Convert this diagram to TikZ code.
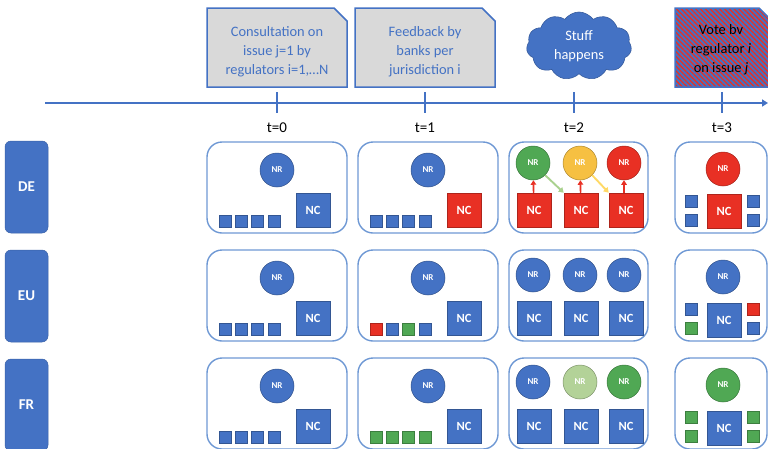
\documentclass[tikz,border=0pt]{standalone}
\usepackage{fontspec}
\setmainfont{Carlito}
\usetikzlibrary{shapes.symbols,arrows.meta,patterns.meta}

\definecolor{ublue}{RGB}{68,114,196}
\definecolor{upanel}{RGB}{110,152,212}
\definecolor{ured}{RGB}{232,48,36}
\definecolor{ugreen}{RGB}{80,168,84}
\definecolor{ulgreen}{RGB}{179,210,152}
\definecolor{uyellow}{RGB}{246,192,66}
\definecolor{ugray}{RGB}{217,217,217}
\definecolor{uarrowgreen}{RGB}{169,209,142}
\definecolor{uarrowyellow}{RGB}{255,217,102}

\tikzset{
  big/.style={font=\fontsize{15}{18.5}\selectfont},
  boxtext/.style={font=\fontsize{14.4}{19}\selectfont, align=center, inner sep=0pt},
  panel/.style={draw=upanel, line width=1.4pt, rounded corners=15pt,
    minimum height=91pt, inner sep=0pt},
  rowlabel/.style={fill=ublue, draw=ublue!85!black, line width=0.5pt,
    rounded corners=6pt, minimum width=43pt, minimum height=92pt,
    text=white, font=\fontsize{15}{18}\selectfont\bfseries},
  nr/.style={circle, minimum size=34pt, inner sep=0pt, fill=#1,
    draw=#1!70!black, line width=0.5pt, text=white,
    font=\fontsize{9}{10}\selectfont\bfseries},
  nc/.style={rectangle, minimum size=34pt, inner sep=0pt, fill=#1,
    draw=#1!75!black, line width=0.5pt, text=white,
    font=\fontsize{12.5}{14}\selectfont\bfseries},
  sq/.style={rectangle, minimum size=12pt, inner sep=0pt, fill=#1,
    draw=#1!75!black, line width=0.5pt},
  up/.style={draw=ured, line width=1.7pt, -{Triangle[length=4.5pt,width=5.5pt]}},
  pass/.style={draw=#1, line width=1.9pt, -{Triangle[length=5pt,width=6pt]}},
  tick/.style={draw=ublue, line width=1.6pt},
}

% box with the top right corner cut off
\newcommand\snipbox[6]{%
  \path[#6] (#1,#2) -- (#3-#5,#2) -- (#3,#2+#5) -- (#3,#4) -- (#1,#4) -- cycle;}

\begin{document}
\begin{tikzpicture}[x=1pt, y=-1pt]
\useasboundingbox (0,0) rectangle (768,448);
\clip (0,0) rectangle (768,448);

% ---- events above the time line
\snipbox{207}{8}{347}{87}{13}{fill=ugray, draw=ublue, line width=1.5pt}
\node[boxtext, text=ublue] (consult) at (277,52)
  {Consultation on\\issue j=1 by\\regulators i=1,\dots N};

\snipbox{355}{8}{495}{87}{13}{fill=ugray, draw=ublue, line width=1.5pt}
\node[boxtext, text=ublue] (feedback) at (425,52)
  {Feedback by\\banks per\\jurisdiction i};

\node[cloud, cloud puffs=11, cloud puff arc=110, aspect=1.55,
  fill=ublue, draw=ublue!80!black, line width=0.6pt,
  minimum width=105pt, minimum height=68pt, inner sep=0pt,
  boxtext, text=white] (stuff) at (579,46) {Stuff\\happens};

\snipbox{675}{8}{770}{87}{11}{preaction={fill=ublue},
  pattern={Lines[angle=-45,distance=3.4pt,line width=1.3pt]},
  pattern color=ured, draw=ublue, line width=1.5pt}
\node[boxtext, text=black] (vote) at (721,50)
  {Vote bv\\regulator \textit{i}\\on issue \textit{j}};

% ---- time line
\coordinate (tstart) at (45,103);
\coordinate (tend) at (768,103);
\draw[draw=ublue, line width=1.6pt, -{Triangle[length=6pt,width=7pt]}] (tstart) -- (tend);
\foreach \x/\n in {277/0, 425/1, 574/2, 722/3} {
  \coordinate (tk\n a) at (\x,92);
  \coordinate (tk\n b) at (\x,113);
  \draw[tick] (tk\n a) -- (tk\n b);
  \node[big] (tl\n) at (\x,128) {t=\n};
}

% ---- jurisdictions
\node[rowlabel] (DE) at (26.5,187) {DE};
\node[rowlabel] (EU) at (26.5,296) {EU};
\node[rowlabel] (FR) at (26.5,405) {FR};

% ---- panels
\foreach \r/\y in {de/187.5, eu/295.5, fr/403.5} {
  \node[panel, minimum width=140pt] (\r p0) at (277,\y) {};
  \node[panel, minimum width=140pt] (\r p1) at (428,\y) {};
  \node[panel, minimum width=139pt] (\r p2) at (578.5,\y) {};
  \node[panel, minimum width=92pt]  (\r p3) at (721,\y) {};
}

% ---- DE
\node[nr=ublue] (de0nr) at (277,170) {NR};
\node[nc=ublue] (de0nc) at (313,210) {NC};
\node[sq=ublue] (de0s1) at (225,221) {};
\node[sq=ublue] (de0s2) at (241.3,221) {};
\node[sq=ublue] (de0s3) at (257.6,221) {};
\node[sq=ublue] (de0s4) at (274,221) {};

\node[nr=ublue] (de1nr) at (428,170) {NR};
\node[nc=ured] (de1nc) at (464,210) {NC};
\node[sq=ublue] (de1s1) at (376,221) {};
\node[sq=ublue] (de1s2) at (392.3,221) {};
\node[sq=ublue] (de1s3) at (408.6,221) {};
\node[sq=ublue] (de1s4) at (425,221) {};

\node[nr=ugreen] (de2nr1) at (533,163) {NR};
\node[nr=uyellow] (de2nr2) at (580,163) {NR};
\node[nr=ured] (de2nr3) at (624,163) {NR};
\node[nc=ured] (de2nc1) at (534,210) {NC};
\node[nc=ured] (de2nc2) at (581,210) {NC};
\node[nc=ured] (de2nc3) at (626,210) {NC};
\draw[up] (de2nc1) -- (de2nr1);
\draw[up] (de2nc2) -- (de2nr2);
\draw[up] (de2nc3.north -| de2nr3) -- (de2nr3);
\draw[pass=uarrowgreen] (de2nr1.south east) -- (de2nc2.north west);
\draw[pass=uarrowyellow] (de2nr2.south east) -- (de2nc3.north west);

\node[nr=ured] (de3nr) at (723,169) {NR};
\node[nc=ured] (de3nc) at (724,211) {NC};
\node[sq=ublue] (de3s1) at (691,201) {};
\node[sq=ublue] (de3s2) at (691,220) {};
\node[sq=ublue] (de3s3) at (753,201) {};
\node[sq=ublue] (de3s4) at (753,220) {};

% ---- EU
\node[nr=ublue] (eu0nr) at (277,278) {NR};
\node[nc=ublue] (eu0nc) at (313,318) {NC};
\node[sq=ublue] (eu0s1) at (225,329) {};
\node[sq=ublue] (eu0s2) at (241.3,329) {};
\node[sq=ublue] (eu0s3) at (257.6,329) {};
\node[sq=ublue] (eu0s4) at (274,329) {};

\node[nr=ublue] (eu1nr) at (428,278) {NR};
\node[nc=ublue] (eu1nc) at (464,318) {NC};
\node[sq=ured] (eu1s1) at (376,329) {};
\node[sq=ublue] (eu1s2) at (392.3,329) {};
\node[sq=ugreen] (eu1s3) at (408.6,329) {};
\node[sq=ublue] (eu1s4) at (425,329) {};

\node[nr=ublue] (eu2nr1) at (533,275) {NR};
\node[nr=ublue] (eu2nr2) at (580,275) {NR};
\node[nr=ublue] (eu2nr3) at (624,275) {NR};
\node[nc=ublue] (eu2nc1) at (534,318) {NC};
\node[nc=ublue] (eu2nc2) at (581,318) {NC};
\node[nc=ublue] (eu2nc3) at (626,318) {NC};

\node[nr=ublue] (eu3nr) at (723,277) {NR};
\node[nc=ublue] (eu3nc) at (724,320) {NC};
\node[sq=ublue] (eu3s1) at (691,309) {};
\node[sq=ugreen] (eu3s2) at (691,328) {};
\node[sq=ured] (eu3s3) at (753,309) {};
\node[sq=ublue] (eu3s4) at (753,328) {};

% ---- FR
\node[nr=ublue] (fr0nr) at (277,386) {NR};
\node[nc=ublue] (fr0nc) at (313,426) {NC};
\node[sq=ublue] (fr0s1) at (225,437) {};
\node[sq=ublue] (fr0s2) at (241.3,437) {};
\node[sq=ublue] (fr0s3) at (257.6,437) {};
\node[sq=ublue] (fr0s4) at (274,437) {};

\node[nr=ublue] (fr1nr) at (428,386) {NR};
\node[nc=ublue] (fr1nc) at (464,426) {NC};
\node[sq=ugreen] (fr1s1) at (376,437) {};
\node[sq=ugreen] (fr1s2) at (392.3,437) {};
\node[sq=ugreen] (fr1s3) at (408.6,437) {};
\node[sq=ugreen] (fr1s4) at (425,437) {};

\node[nr=ublue] (fr2nr1) at (533,382) {NR};
\node[nr=ulgreen] (fr2nr2) at (580,382) {NR};
\node[nr=ugreen] (fr2nr3) at (624,382) {NR};
\node[nc=ublue] (fr2nc1) at (534,426) {NC};
\node[nc=ublue] (fr2nc2) at (581,426) {NC};
\node[nc=ublue] (fr2nc3) at (626,426) {NC};

\node[nr=ugreen] (fr3nr) at (723,385) {NR};
\node[nc=ublue] (fr3nc) at (724,428) {NC};
\node[sq=ugreen] (fr3s1) at (691,417) {};
\node[sq=ugreen] (fr3s2) at (691,436) {};
\node[sq=ugreen] (fr3s3) at (753,417) {};
\node[sq=ugreen] (fr3s4) at (753,436) {};
\end{tikzpicture}
\end{document}
